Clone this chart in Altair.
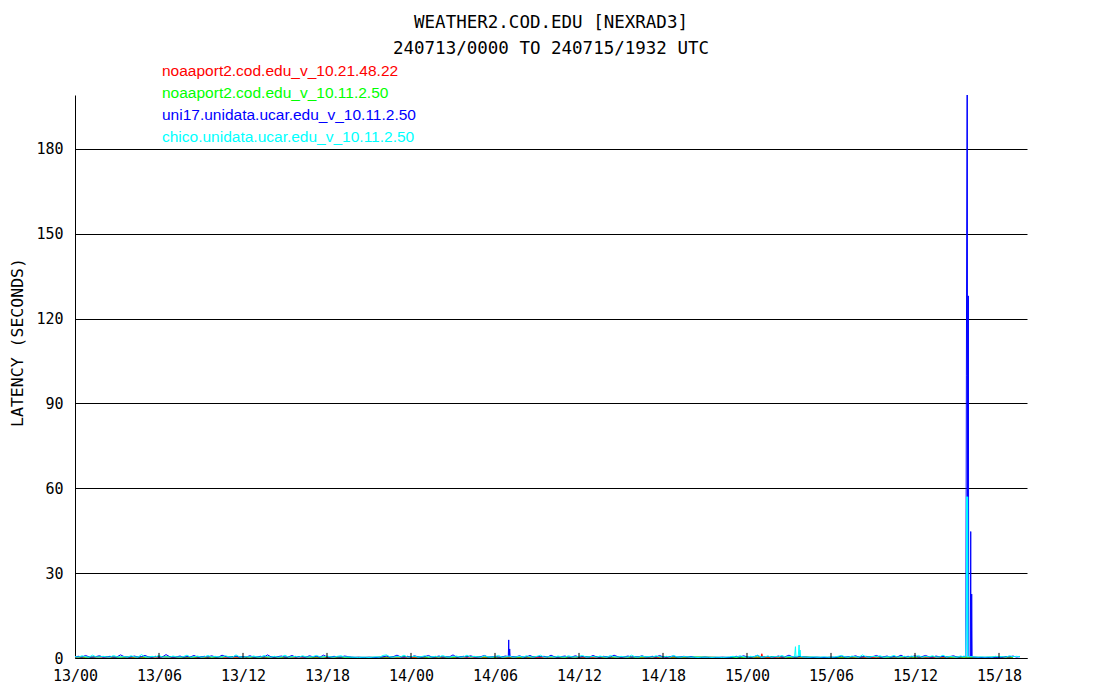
import altair as alt
import pandas as pd

TITLE = "WEATHER2.COD.EDU [NEXRAD3]"
SUBTITLE = "240713/0000 TO 240715/1932 UTC"
Y_TITLE = "LATENCY (SECONDS)"

series_names = [
    "noaaport2.cod.edu_v_10.21.48.22",
    "noaaport2.cod.edu_v_10.11.2.50",
    "uni17.unidata.ucar.edu_v_10.11.2.50",
    "chico.unidata.ucar.edu_v_10.11.2.50",
]
series_colors = ["#ff0000", "#00ff00", "#0000ff", "#00ffff"]

# time axis: hours since 13/00 UTC
quarter_hours = [i * 0.25 for i in range(271)]   # 0 .. 67.5
hours = list(range(68))                           # 0 .. 67

blue_base = [
    0.4, 0.6, 0.3, 0.9, 0.4, 0.3, 0.5, 0.8, 0.3, 0.4,
    0.6, 0.3, 0.4, 1.1, 0.5, 0.3, 0.4, 0.7, 0.3, 0.5,
    0.9, 0.4, 0.3, 0.6, 0.3, 0.4, 1.2, 0.5, 0.3, 0.4,
    0.7, 0.3, 0.5, 0.4, 0.9, 0.3, 0.4, 0.6, 0.3, 0.8,
    0.4, 0.3, 1.0, 0.5, 0.3, 0.4, 0.7, 0.3, 0.5, 0.4,
    0.8, 0.3, 0.4, 0.6, 0.3, 1.1, 0.4, 0.3, 0.5, 0.7,
    0.3, 0.4, 0.9, 0.3, 0.5, 0.4, 0.3, 0.8, 0.4, 0.6,
    0.3, 1.0, 0.4, 0.3, 0.6, 0.4, 0.3, 0.7, 0.5, 0.3,
    0.2, 0.3, 0.2, 0.2, 0.3, 0.2, 0.2, 0.3, 0.4, 0.7,
    0.3, 0.5, 1.0, 0.4, 0.3, 0.6, 0.3, 0.8, 0.4, 0.3,
    0.5, 0.9, 0.3, 0.4, 0.7, 0.3, 0.5, 0.4, 1.1, 0.3,
    0.4, 0.6, 0.3, 0.8, 0.4, 0.3, 0.5, 0.9, 0.3, 0.4,
    0.6, 0.3, 0.4, 0.7, 0.3, 0.5, 0.4, 0.8, 0.3, 0.4,
    0.9, 0.3, 0.5, 0.4, 0.6, 0.3, 1.0, 0.4, 0.3, 0.5,
    0.7, 0.3, 0.4, 0.8, 0.3, 0.5, 0.4, 0.3, 0.9, 0.4,
    0.3, 0.6, 0.4, 0.3, 1.0, 0.5, 0.3, 0.4, 0.7, 0.3,
    0.5, 0.4, 0.8, 0.3, 0.4, 0.6, 0.3, 0.9, 0.4, 0.3,
    0.5, 0.7, 0.3, 0.4, 0.6, 0.3, 0.5, 0.2, 0.2, 0.2,
    0.3, 0.2, 0.2, 0.2, 0.2, 0.3, 0.2, 0.2, 0.4, 0.6,
    0.3, 0.8, 0.4, 0.3, 0.5, 0.9, 0.3, 0.4, 0.6, 0.3,
    0.4, 0.7, 0.3, 0.5, 1.0, 0.4, 0.3, 0.6, 0.4, 0.3,
    0.2, 0.2, 0.3, 0.2, 0.2, 0.2, 0.3, 0.2, 0.4, 0.7,
    0.3, 0.5, 0.4, 0.8, 0.3, 0.4, 0.6, 0.3, 0.5, 0.9,
    0.3, 0.4, 0.7, 0.3, 0.5, 0.4, 1.0, 0.3, 0.6, 0.4,
    0.8, 0.3, 0.5, 0.9, 0.4, 0.3, 0.7, 0.4, 0.6, 0.3,
    0.5, 0.8, 0.3, 0.4, 0.6, 0.3, 0.4, 0.3, 0.2, 0.2,
    0.2, 0.2, 0.2, 0.3, 0.2, 0.3, 0.5, 0.4, 0.7, 0.3,
    0.5,
]
cyan_base = [
    0.5, 0.3, 0.8, 0.4, 0.3, 1.0, 0.4, 0.3, 0.6, 0.4,
    0.3, 0.9, 0.4, 0.3, 0.5, 0.3, 0.8, 0.4, 0.3, 1.2,
    0.4, 0.3, 0.6, 0.4, 0.9, 0.3, 0.4, 0.3, 0.7, 0.4,
    0.3, 0.5, 1.0, 0.3, 0.4, 0.7, 0.3, 0.4, 0.9, 0.3,
    0.6, 0.4, 0.3, 0.8, 0.4, 0.3, 1.1, 0.4, 0.3, 0.5,
    0.3, 0.7, 0.4, 0.3, 0.9, 0.4, 0.3, 0.6, 0.3, 0.4,
    1.0, 0.3, 0.4, 0.6, 0.3, 0.8, 0.4, 0.3, 0.5, 0.9,
    0.4, 0.3, 0.7, 0.4, 0.3, 0.6, 0.8, 0.3, 0.4, 0.3,
    0.3, 0.2, 0.3, 0.3, 0.2, 0.3, 0.4, 0.3, 0.9, 1.1,
    0.4, 0.3, 0.6, 0.4, 1.0, 0.3, 0.4, 0.7, 0.3, 0.5,
    0.8, 0.3, 0.4, 0.6, 0.3, 0.9, 0.4, 0.3, 0.5, 0.7,
    0.3, 0.4, 1.0, 0.3, 0.6, 0.4, 0.3, 0.8, 0.4, 0.3,
    0.5, 0.9, 0.3, 0.4, 0.7, 0.3, 0.4, 0.6, 0.3, 0.8,
    0.4, 0.3, 0.6, 1.0, 0.3, 0.4, 0.5, 0.3, 0.7, 0.4,
    0.3, 0.8, 0.4, 0.3, 0.6, 0.9, 0.3, 0.4, 0.5, 0.3,
    0.7, 0.4, 0.3, 0.9, 0.4, 0.3, 0.6, 0.4, 0.3, 1.0,
    0.4, 0.3, 0.7, 0.4, 0.5, 0.3, 0.8, 0.4, 0.3, 0.6,
    0.3, 0.9, 0.4, 0.3, 0.5, 0.4, 0.3, 0.3, 0.2, 0.3,
    0.3, 0.3, 0.2, 0.3, 0.3, 0.2, 0.3, 0.4, 0.6, 0.3,
    0.8, 0.4, 0.3, 0.6, 0.4, 1.0, 0.3, 0.4, 0.7, 0.3,
    0.5, 0.4, 0.9, 0.3, 0.6, 0.4, 0.3, 0.8, 0.4, 0.3,
    0.3, 0.4, 0.3, 0.3, 0.4, 0.3, 0.3, 0.4, 0.6, 0.9,
    0.4, 0.3, 0.7, 0.4, 0.3, 1.1, 0.4, 0.3, 0.6, 0.4,
    0.8, 0.3, 0.4, 0.5, 0.9, 0.3, 0.4, 0.6, 0.3, 0.7,
    0.4, 0.9, 0.3, 0.5, 0.4, 0.8, 0.3, 0.4, 1.0, 0.3,
    0.6, 0.4, 0.3, 0.7, 0.4, 0.3, 0.5, 0.4, 0.3, 0.4,
    0.3, 0.4, 0.3, 0.6, 0.4, 0.5, 0.3, 0.8, 0.4, 0.6,
    0.4,
]
green_base = [
    0.4, 0.3, 0.5, 0.3, 0.4, 0.3, 0.5, 0.4, 0.3, 0.4,
    0.3, 0.5, 0.4, 0.3, 0.4, 0.3, 0.5, 0.3, 0.4, 0.3,
    0.2, 0.2, 0.3, 0.4, 0.5, 0.3, 0.4, 0.3, 0.5, 0.4,
    0.3, 0.4, 0.3, 0.5, 0.4, 0.3, 0.4, 0.5, 0.3, 0.4,
    0.3, 0.4, 0.5, 0.3, 0.4, 0.3, 0.2, 0.2, 0.3, 0.4,
    0.5, 0.3, 0.4, 0.2, 0.2, 0.3, 0.4, 0.5, 0.3, 0.4,
    0.3, 0.5, 0.4, 0.3, 0.3, 0.2, 0.4, 0.3,
]
red_base = [
    0.2, 0.2, 0.3, 0.2, 0.2, 0.2, 0.3, 0.2, 0.2, 0.2,
    0.2, 0.3, 0.2, 0.2, 0.2, 0.2, 0.3, 0.2, 0.2, 0.2,
    0.2, 0.2, 0.2, 0.3, 0.2, 0.2, 0.2, 0.2, 0.3, 0.2,
    0.2, 0.2, 0.2, 0.2, 0.3, 0.2, 0.2, 0.2, 0.2, 0.2,
    0.3, 0.2, 0.2, 0.2, 0.2, 0.3, 0.2, 0.2, 0.2, 0.2,
    0.2, 0.2, 0.3, 0.2, 0.2, 0.2, 0.2, 0.2, 0.3, 0.2,
    0.2, 0.2, 0.2, 0.3, 0.2, 0.2, 0.2, 0.2,
]

# short-lived excursions (hours since 13/00, seconds)
red_spike_t = [49.00, 49.06, 49.12]
red_spike_v = [0.2, 1.5, 0.2]
green_spike_t = []
green_spike_v = []
blue_spike_t = [30.95, 30.98, 31.02, 31.05, 31.08,
                63.63, 63.67, 63.74, 63.81, 63.84, 63.95, 63.98, 64.01, 64.03, 64.05, 64.08]
blue_spike_v = [0.5, 6.4, 0.6, 3.2, 0.5,
                0.5, 100.0, 260.0, 128.0, 0.5, 0.4, 44.7, 0.4, 0.4, 22.6, 0.4]
cyan_spike_t = [51.40, 51.46, 51.52, 51.66, 51.72, 51.75, 51.79, 51.83,
                63.62, 63.665, 63.69, 63.76, 63.79]
cyan_spike_v = [0.5, 4.0, 0.6, 0.6, 4.6, 0.8, 2.8, 0.6,
                0.5, 15.0, 57.0, 57.0, 0.5]

tick_hours = [6, 12, 18, 24, 30, 36, 42, 48, 54, 60, 66]
y_ticks = [0, 30, 60, 90, 120, 150, 180]


def build(times, vals, st, sv, name):
    rows = sorted(zip(list(times) + st, list(vals) + sv))
    return pd.DataFrame({"hour": [r[0] for r in rows],
                         "latency": [r[1] for r in rows],
                         "series": name})


frames = [
    build(hours, red_base, red_spike_t, red_spike_v, series_names[0]),
    build(hours, green_base, green_spike_t, green_spike_v, series_names[1]),
    build(quarter_hours, blue_base, blue_spike_t, blue_spike_v, series_names[2]),
    build(quarter_hours, cyan_base, cyan_spike_t, cyan_spike_v, series_names[3]),
]

MONO = "DejaVu Sans Mono"

x_enc = alt.X(
    "hour:Q",
    scale=alt.Scale(domain=[0, 68], nice=False, zero=False),
    axis=alt.Axis(
        values=list(range(0, 67, 6)),
        labelExpr="format(13 + floor(datum.value / 24), '02d') + '/' + format(datum.value % 24, '02d')",
        grid=False, ticks=False, tickSize=0,
        domainColor="black", domainWidth=1,
        labelFont=MONO, labelFontSize=15, labelColor="black",
        labelPadding=10, labelFlush=False, labelOverlap=False,
        title=None,
    ),
)
y_enc = alt.Y(
    "latency:Q",
    scale=alt.Scale(domain=[0, 199], nice=False),
    axis=alt.Axis(
        values=y_ticks,
        grid=True, gridColor="black", gridWidth=1, gridOpacity=1,
        ticks=False, tickSize=0,
        domainColor="black", domainWidth=1,
        labelFont=MONO, labelFontSize=15, labelColor="black", labelPadding=12,
        title=Y_TITLE, titleFont=MONO, titleFontSize=16.5, titleFontWeight="normal",
        titleColor="black", titleAngle=270, titleX=-58, titleY=247,
        titleAlign="center", titleBaseline="middle",
    ),
)

layers = []
for df, col in zip(frames, series_colors):
    layers.append(
        alt.Chart(df).mark_line(color=col, strokeWidth=1, clip=True)
        .encode(x=x_enc, y=y_enc)
    )

ticks_df = pd.DataFrame({"hour": tick_hours})
layers.append(
    alt.Chart(ticks_df).mark_rule(color="black", strokeWidth=1)
    .encode(x=alt.X("hour:Q"), y=alt.datum(0), y2=alt.datum(1.8))
)

legend_y = [-19, 3, 25, 47]
for name, col, ly in zip(series_names, series_colors, legend_y):
    layers.append(
        alt.Chart(pd.DataFrame({"label": [name]}))
        .mark_text(align="left", baseline="alphabetic", font="Liberation Sans",
                   fontSize=15.5, color=col)
        .encode(x=alt.value(87), y=alt.value(ly), text="label:N")
    )

chart = (
    alt.layer(*layers)
    .properties(
        width=952, height=563,
        autosize=alt.AutoSizeParams(type="none"),
        padding={"left": 67, "top": 87, "right": 60, "bottom": 30},
        view=alt.ViewBackground(stroke="transparent", strokeWidth=0, strokeOpacity=0),
        title=alt.TitleParams(
            TITLE, subtitle=SUBTITLE, anchor="middle", frame="group",
            font=MONO, fontSize=17.5, fontWeight="normal", color="black",
            subtitleFont=MONO, subtitleFontSize=17.5, subtitleColor="black",
            subtitlePadding=8, offset=7,
        ),
    )
    .configure_view(stroke="transparent", strokeWidth=0, strokeOpacity=0)
    .configure(background="white")
)

chart.save("out.html", embed_options={"renderer": "svg", "actions": False})
